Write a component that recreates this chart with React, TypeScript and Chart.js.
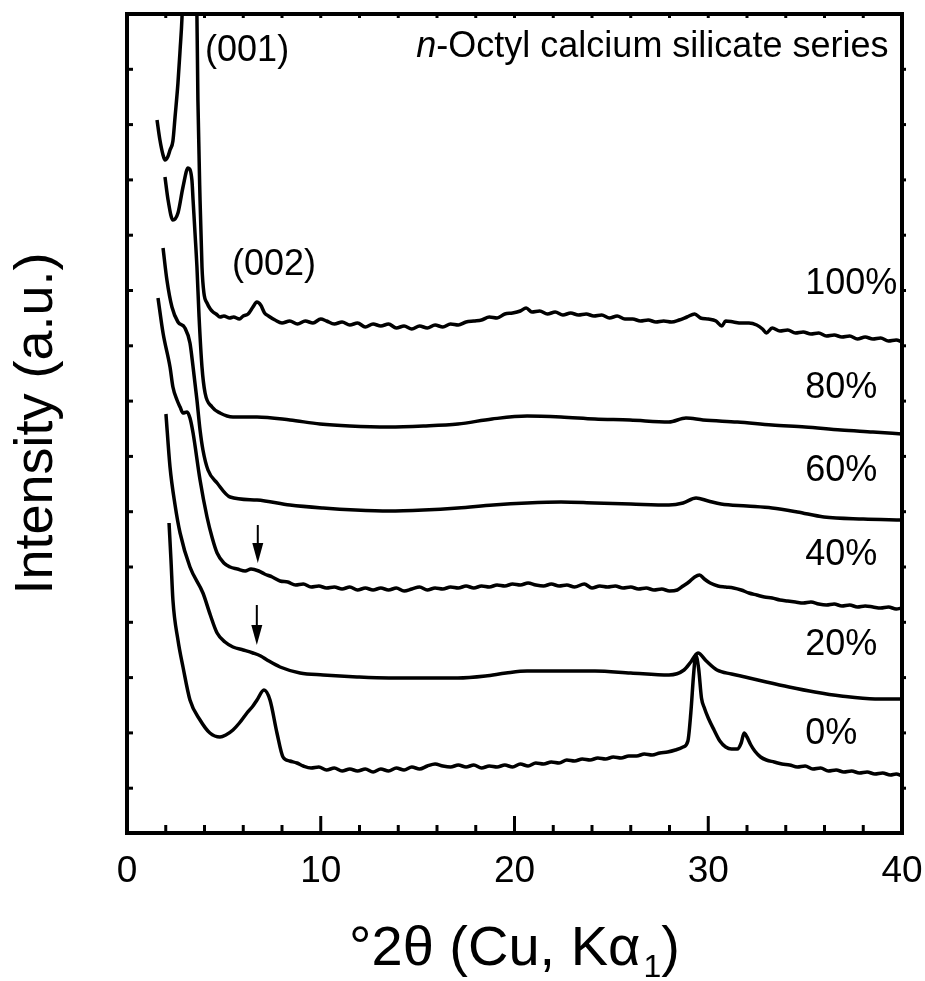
import React, { useEffect, useRef } from 'react';
import { Chart, registerables } from 'chart.js';

Chart.register(...registerables);

const W = 925;
const H = 981;

// axes
const X_MIN = 0;
const X_MAX = 40;
const Y_MIN = 0;
const Y_MAX = 819;
const xMajorTicks = [0, 10, 20, 30, 40];
const xTickLabels = ['0', '10', '20', '30', '40'];
const xMinorStep = 2;
const yTickStep = 55.3;

// sample labels
const sampleLabels = ['100%', '80%', '60%', '40%', '20%', '0%'];
const sampleLabelX = 35.0;
const sampleLabelY = [539, 435, 352, 268, 178, 89];

// reflection labels
const reflLabels = ['(001)', '(002)'];
const reflX = [4.03, 5.42];
const reflY = [772, 558];

// arrows (x, top, tip)
const arrowX = [6.75, 6.7];
const arrowTop = [308, 228];
const arrowTip = [270, 188];

// series (2θ, intensity a.u.)
const s100 = [
  [1.55, 713], [1.70, 693], [1.86, 678], [1.96, 673], [2.1, 676], [2.22, 683], [2.37, 692], [2.48, 716],
  [2.63, 750], [2.74, 783], [2.84, 816], [2.98, 900], [3.2, 1050], [3.45, 900], [3.61, 816], [3.66, 733],
  [3.77, 633], [3.87, 566], [3.97, 540], [4.13, 530], [4.3, 524], [4.44, 521], [4.6, 519], [4.8, 516],
  [5.0, 517], [5.3, 515], [5.5, 516], [5.8, 514], [6.0, 517], [6.25, 519], [6.5, 526], [6.7, 531],
  [6.9, 528], [7.1, 520], [7.3, 517], [7.64, 513], [8.0, 510], [8.4, 512], [8.8, 509], [9.2, 512],
  [9.6, 510], [10.0, 514], [10.3, 512], [10.7, 509], [11.1, 511], [11.5, 508], [11.9, 510], [12.3, 506],
  [12.7, 509], [13.1, 507], [13.5, 509], [13.9, 505], [14.3, 507], [14.7, 504], [15.1, 507], [15.5, 505],
  [15.9, 508], [16.3, 506], [16.7, 509], [17.1, 508], [17.5, 511], [17.9, 512], [18.3, 513], [18.7, 516],
  [19.1, 515], [19.5, 519], [19.9, 520], [20.3, 522], [20.6, 525], [20.9, 521], [21.3, 522], [21.7, 519],
  [22.1, 521], [22.5, 518], [22.9, 520], [23.3, 518], [23.7, 519], [24.1, 517], [24.5, 518], [24.9, 515],
  [25.3, 517], [25.7, 514], [26.1, 514], [26.5, 512], [26.9, 513], [27.3, 511], [27.7, 512], [28.1, 511],
  [28.5, 513], [28.9, 516], [29.3, 519], [29.6, 515], [30.0, 514], [30.4, 512], [30.7, 507], [30.9, 512],
  [31.3, 511], [31.7, 510], [32.1, 510], [32.5, 508], [32.8, 504], [33.0, 500], [33.3, 505], [33.7, 502],
  [34.1, 503], [34.5, 500], [34.9, 501], [35.3, 499], [35.7, 500], [36.1, 497], [36.5, 498], [36.9, 496],
  [37.3, 497], [37.7, 494], [38.1, 496], [38.5, 494], [38.9, 495], [39.3, 492], [39.7, 493], [40.0, 491],
];

const s80 = [
  [1.96, 656], [2.12, 633], [2.37, 613], [2.63, 620], [2.89, 646], [3.15, 665], [3.35, 653], [3.41, 633],
  [3.51, 600], [3.61, 566], [3.72, 516], [3.87, 466], [4.03, 440], [4.39, 426], [4.8, 420], [5.47, 416],
  [6.71, 416], [8.41, 413], [9.96, 409], [11.5, 407], [13.52, 406], [15.3, 407], [17.08, 409], [18.84, 414],
  [20.65, 417], [22.4, 416], [24.15, 414], [25.96, 413], [27.97, 411], [28.85, 415], [29.73, 413],
  [31.5, 411], [33.29, 408], [35.0, 406], [36.85, 403], [38.5, 401], [40.0, 399],
];

const s60 = [
  [1.86, 585], [2.06, 553], [2.32, 526], [2.63, 511], [2.99, 505], [3.25, 490], [3.41, 466], [3.61, 433],
  [3.77, 403], [3.92, 383], [4.18, 363], [4.65, 350], [5.32, 336], [6.71, 333], [8.41, 328], [10.12, 325],
  [11.8, 323], [13.52, 322], [15.3, 323], [17.08, 325], [18.9, 328], [20.65, 330], [22.4, 331], [24.15, 330],
  [26.0, 329], [27.97, 328], [28.7, 330], [29.37, 335], [30.0, 332], [30.66, 329], [32.0, 327], [33.29, 325],
  [34.6, 321], [35.97, 316], [38.0, 314], [40.0, 313],
];

const s40 = [
  [1.6, 535], [1.86, 500], [2.22, 466], [2.37, 446], [2.58, 433], [2.74, 426], [2.89, 420], [3.1, 421],
  [3.25, 415], [3.41, 400], [3.77, 353], [4.13, 316], [4.4, 295], [4.65, 280], [5.0, 270], [5.32, 266],
  [5.7, 264], [6.1, 262], [6.4, 264], [6.8, 262], [7.1, 259], [7.5, 256], [7.9, 252], [8.3, 251],
  [8.7, 248], [9.1, 249], [9.5, 246], [9.9, 247], [10.3, 245], [10.7, 246], [11.1, 244], [11.5, 246],
  [11.9, 243], [12.3, 245], [12.7, 243], [13.1, 245], [13.5, 243], [13.9, 245], [14.3, 242], [14.7, 244],
  [15.1, 246], [15.5, 243], [15.9, 245], [16.3, 244], [16.7, 246], [17.1, 245], [17.5, 247], [17.9, 245],
  [18.3, 247], [18.7, 246], [19.1, 248], [19.5, 247], [19.9, 249], [20.3, 248], [20.7, 250], [21.1, 248],
  [21.5, 247], [21.9, 249], [22.3, 247], [22.7, 248], [23.1, 246], [23.6, 249], [24.0, 245], [24.4, 247],
  [24.8, 246], [25.2, 247], [25.6, 245], [26.0, 246], [26.4, 244], [26.8, 245], [27.2, 243], [27.6, 244],
  [28.0, 242], [28.4, 243], [28.7, 247], [29.0, 251], [29.3, 256], [29.55, 258], [29.8, 254], [30.1, 250],
  [30.5, 247], [30.9, 246], [31.3, 245], [31.7, 243], [32.1, 240], [32.5, 238], [32.9, 236], [33.3, 235],
  [33.7, 233], [34.1, 232], [34.5, 231], [34.9, 230], [35.3, 231], [35.7, 229], [36.1, 228], [36.5, 229],
  [36.9, 227], [37.3, 228], [37.7, 226], [38.1, 227], [38.5, 226], [38.9, 225], [39.3, 226], [39.7, 224],
  [40.0, 225],
];

const s20 = [
  [2.01, 419], [2.22, 366], [2.48, 328], [2.74, 300], [3.25, 266], [3.92, 240], [4.3, 218], [4.65, 200],
  [5.06, 191], [5.47, 186], [6.0, 183], [6.5, 180], [6.9, 177], [7.23, 173], [7.9, 166], [8.93, 160],
  [10.12, 158], [11.87, 156], [13.52, 155], [15.3, 155], [17.08, 155], [18.5, 157], [19.56, 160],
  [20.65, 162], [22.4, 162], [24.15, 162], [26.0, 160], [27.97, 158], [28.75, 163], [29.1, 171],
  [29.47, 180], [29.9, 172], [30.45, 163], [31.2, 159], [31.9, 156], [33.0, 151], [34.17, 146], [35.5, 141],
  [36.85, 137], [38.61, 134], [40.0, 134],
];

const s0 = [
  [2.17, 310], [2.27, 273], [2.37, 233], [2.63, 193], [2.89, 166], [3.25, 133], [3.77, 113], [4.28, 100],
  [4.8, 96], [5.1, 98], [5.47, 103], [5.8, 110], [6.19, 120], [6.5, 127], [6.71, 133], [7.07, 143],
  [7.38, 133], [7.74, 100], [8.05, 76], [8.4, 72], [8.77, 70], [9.1, 67], [9.5, 65], [9.9, 66],
  [10.3, 63], [10.7, 65], [11.1, 62], [11.5, 64], [11.9, 62], [12.3, 64], [12.7, 61], [13.1, 64],
  [13.5, 62], [13.9, 65], [14.3, 63], [14.7, 66], [15.1, 64], [15.5, 67], [15.9, 69], [16.3, 67],
  [16.7, 66], [17.1, 68], [17.5, 66], [17.9, 68], [18.3, 65], [18.7, 67], [19.1, 66], [19.5, 68],
  [19.9, 66], [20.3, 69], [20.7, 67], [21.1, 70], [21.5, 69], [21.9, 71], [22.3, 70], [22.7, 73],
  [23.1, 72], [23.5, 74], [23.9, 73], [24.3, 75], [24.7, 74], [25.1, 76], [25.5, 75], [25.9, 77],
  [26.3, 77], [26.7, 79], [27.1, 78], [27.5, 80], [27.9, 81], [28.3, 83], [28.7, 86], [28.95, 92],
  [29.1, 120], [29.25, 160], [29.35, 178], [29.5, 165], [29.65, 135], [29.8, 125], [30.0, 115],
  [30.3, 103], [30.6, 92], [30.9, 86], [31.2, 84], [31.5, 84], [31.7, 90], [31.85, 100], [32.0, 96],
  [32.2, 88], [32.4, 82], [32.7, 76], [33.0, 73], [33.4, 71], [33.8, 69], [34.2, 68], [34.6, 66],
  [35.0, 67], [35.4, 64], [35.8, 65], [36.2, 62], [36.6, 63], [37.0, 61], [37.4, 62], [37.8, 60],
  [38.2, 61], [38.6, 59], [39.0, 60], [39.4, 58], [39.7, 59], [40.0, 57],
];

const allSeries = [s100, s80, s60, s40, s20, s0];

const FONT = '"Liberation Sans", Arial, Helvetica, sans-serif';

const decor = {
  id: 'decor',
  afterDraw(chart: any) {
    const { ctx, chartArea: a, scales } = chart;
    const x = scales.x;
    const y = scales.y;
    const line = (x1: number, y1: number, x2: number, y2: number) => {
      ctx.beginPath();
      ctx.moveTo(x1, y1);
      ctx.lineTo(x2, y2);
      ctx.stroke();
    };
    ctx.save();
    ctx.strokeStyle = '#000';
    ctx.fillStyle = '#000';
    ctx.lineCap = 'butt';

    // frame
    ctx.lineWidth = 4;
    ctx.strokeRect(a.left, a.top, a.right - a.left, a.bottom - a.top);

    // x ticks (inward)
    ctx.lineWidth = 3;
    for (let v = X_MIN; v <= X_MAX + 1e-9; v += xMinorStep) {
      const px = x.getPixelForValue(v);
      const major = xMajorTicks.includes(v);
      line(px, a.bottom, px, a.bottom - (major ? 17 : 8));
      line(px, a.top, px, a.top + 4);
    }
    // y ticks
    for (let k = 1; Y_MAX - k * yTickStep > Y_MIN + 5; k++) {
      const py = y.getPixelForValue(Y_MAX - k * yTickStep);
      line(a.left, py, a.left + 6, py);
      line(a.right, py, a.right + 4, py);
    }

    // x tick labels
    ctx.font = `37px ${FONT}`;
    ctx.textAlign = 'center';
    ctx.textBaseline = 'alphabetic';
    xMajorTicks.forEach((v, i) => {
      ctx.fillText(xTickLabels[i], x.getPixelForValue(v), a.bottom + 49);
    });

    // x axis title
    const cx = (a.left + a.right) / 2;
    const mainT = '°2θ (Cu, Kα';
    const subT = '1';
    const endT = ')';
    ctx.font = `56px ${FONT}`;
    const wMain = ctx.measureText(mainT).width;
    const wEnd = ctx.measureText(endT).width;
    ctx.font = `32px ${FONT}`;
    const wSub = ctx.measureText(subT).width;
    const gap = 3;
    const total = wMain + gap + wSub + wEnd;
    let sx = cx - total / 2;
    const by = 965;
    ctx.textAlign = 'left';
    ctx.font = `56px ${FONT}`;
    ctx.fillText(mainT, sx, by);
    sx += wMain + gap;
    ctx.font = `32px ${FONT}`;
    ctx.fillText(subT, sx, by + 12);
    sx += wSub;
    ctx.font = `56px ${FONT}`;
    ctx.fillText(endT, sx, by);

    // y axis title
    ctx.save();
    ctx.translate(52, (a.top + a.bottom) / 2);
    ctx.rotate(-Math.PI / 2);
    ctx.textAlign = 'center';
    ctx.font = `54px ${FONT}`;
    ctx.fillText('Intensity (a.u.)', 0, 0);
    ctx.restore();

    // sample labels
    ctx.font = `36px ${FONT}`;
    ctx.textAlign = 'left';
    sampleLabels.forEach((t, i) => {
      ctx.fillText(t, x.getPixelForValue(sampleLabelX), y.getPixelForValue(sampleLabelY[i]));
    });

    // reflection labels
    reflLabels.forEach((t, i) => {
      ctx.fillText(t, x.getPixelForValue(reflX[i]), y.getPixelForValue(reflY[i]));
    });

    // series title (right-aligned, italic n)
    const rest = '-Octyl calcium silicate series';
    ctx.font = `36px ${FONT}`;
    const wRest = ctx.measureText(rest).width;
    ctx.font = `italic 36px ${FONT}`;
    const wN = ctx.measureText('n').width;
    const rx = x.getPixelForValue(39.3);
    const ty = y.getPixelForValue(776);
    ctx.fillText('n', rx - wRest - wN, ty);
    ctx.font = `36px ${FONT}`;
    ctx.fillText(rest, rx - wRest, ty);

    // arrows
    arrowX.forEach((v, i) => {
      const px = x.getPixelForValue(v);
      const top = y.getPixelForValue(arrowTop[i]);
      const tip = y.getPixelForValue(arrowTip[i]);
      const head = 20;
      ctx.lineWidth = 2;
      line(px, top, px, tip - head + 2);
      ctx.beginPath();
      ctx.moveTo(px - 5.5, tip - head);
      ctx.lineTo(px + 5.5, tip - head);
      ctx.lineTo(px, tip);
      ctx.closePath();
      ctx.fill();
    });

    ctx.restore();
  },
};

export default function App() {
  const ref = useRef<HTMLCanvasElement | null>(null);
  useEffect(() => {
    if (!ref.current) return;
    const chart = new Chart(ref.current, {
      type: 'line',
      data: {
        datasets: allSeries.map((s, i) => ({
          label: sampleLabels[i],
          data: s.map(([px, py]) => ({ x: px, y: py })),
          borderColor: '#000',
          borderWidth: 3.5,
          pointRadius: 0,
          fill: false,
          cubicInterpolationMode: 'monotone' as const,
          borderJoinStyle: 'round' as const,
        })),
      },
      options: {
        animation: false,
        responsive: false,
        devicePixelRatio: 1,
        layout: { padding: { left: 127, top: 14, right: W - 902, bottom: H - 833 } },
        plugins: { legend: { display: false }, tooltip: { enabled: false } },
        scales: {
          x: { type: 'linear', min: X_MIN, max: X_MAX, display: false },
          y: { type: 'linear', min: Y_MIN, max: Y_MAX, display: false },
        },
      },
      plugins: [decor],
    });
    return () => chart.destroy();
  }, []);
  return (
    <div style={{ position: 'absolute', left: 0, top: 0, width: W, height: H, background: '#fff' }}>
      <canvas ref={ref} width={W} height={H} style={{ display: 'block' }} />
    </div>
  );
}
